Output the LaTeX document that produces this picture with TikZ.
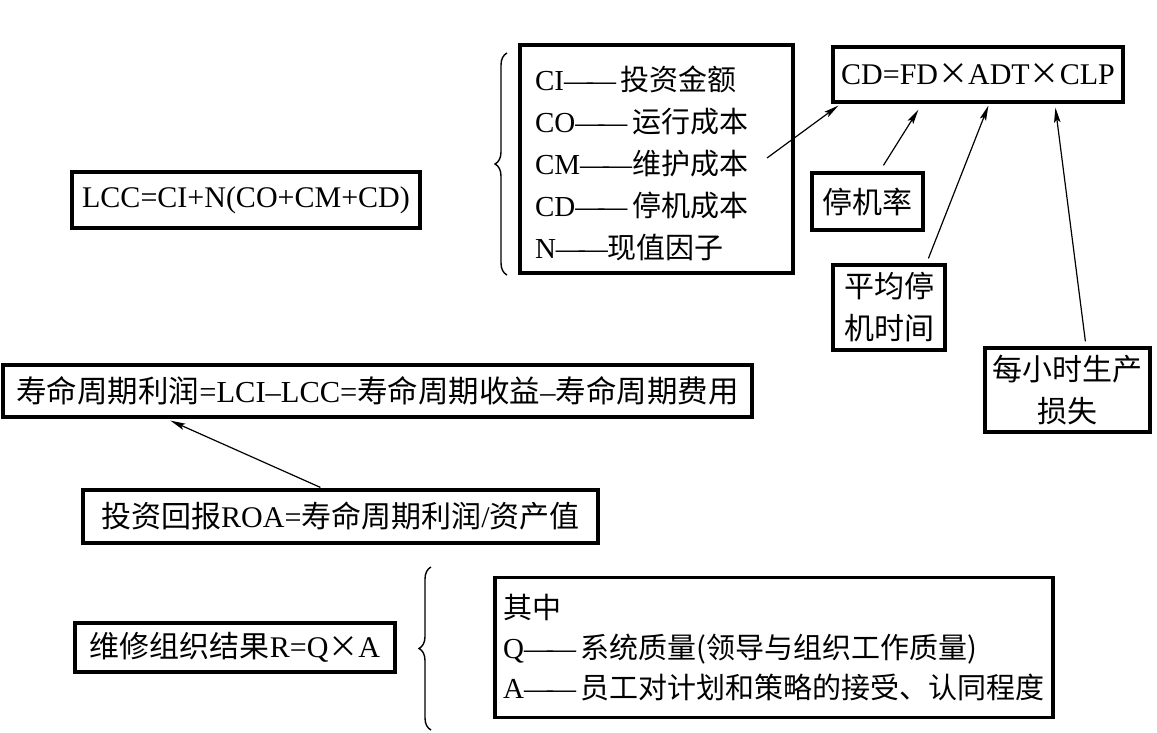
\documentclass[tikz,border=0pt]{standalone}
\usepackage{fontspec}
\setmainfont{Liberation Serif}
\newfontfamily\cjk{Noto Sans CJK SC}
\usetikzlibrary{arrows.meta,decorations.pathreplacing,calc}
\newcommand{\cx}{{\cjk ×}}
\newcommand{\ldash}{—\kern-6pt—}
\begin{document}
\begin{tikzpicture}[x=1pt,y=-1pt,
  box/.style={draw,line width=3.2pt,inner sep=0pt,align=center,
    font=\fontsize{30}{42}\selectfont},
  conn/.style={line width=1.2pt,-{Stealth[length=15pt,width=6.5pt,inset=3pt]}},
  bracel/.style={line width=1.4pt,decorate,decoration={brace,amplitude=12pt}}]
\useasboundingbox (0,0) rectangle (1157,732);
% boxes
\node[box,minimum width=348pt,minimum height=56pt] (lcc) at (246,200)
  {LCC=CI+N(CO+CM+CD)};
\node[box,minimum width=273pt,minimum height=228pt,align=left,
  font=\fontsize{29}{42}\selectfont] (list) at (656.5,159)
  {\makebox[243pt][l]{\rule{0pt}{34pt}CI\ldash\,{\cjk 投资金额}}\\
   CO\ldash\,{\cjk 运行成本}\\
   CM\ldash{\cjk 维护成本}\\
   CD\ldash\,{\cjk 停机成本}\\
   N\ldash{\cjk 现值因子}};
\node[box,minimum width=290pt,minimum height=55pt] (cd) at (978,74.5)
  {CD=FD\cx ADT\cx CLP};
\node[box,minimum width=111pt,minimum height=57pt] (fd) at (867.5,201.5)
  {\cjk 停机率};
\node[box,minimum width=112pt,minimum height=85pt] (adt) at (889,307.5)
  {\cjk 平均停\\\cjk 机时间};
\node[box,minimum width=165pt,minimum height=84pt] (clp) at (1067.5,390)
  {\cjk 每小时生产\\\cjk 损失};
\node[box,minimum width=749pt,minimum height=52pt,font=\fontsize{30.5}{40}\selectfont] (profit) at (377.5,391)
  {{\cjk 寿命周期利润}=LCI–LCC={\cjk 寿命周期收益}–{\cjk 寿命周期费用}};
\node[box,minimum width=515pt,minimum height=53pt] (roa) at (340.5,516.5)
  {{\cjk 投资回报}ROA={\cjk 寿命周期利润}/{\cjk 资产值}};
\node[box,minimum width=320pt,minimum height=49pt] (r) at (235,647.5)
  {{\cjk 维修组织结果}R=Q\cx A};
\node[box,minimum width=558pt,minimum height=140pt,align=left,
  font=\fontsize{29}{40}\selectfont] (qa) at (774,647.5)
  {\makebox[540pt][l]{\cjk 其中}\\
   Q\ldash\,{\cjk 系统质量(领导与组织工作质量)}\\
   A\ldash\,{\cjk 员工对计划和策略的接受、认同程度}};
% braces
\coordinate (b1s) at (507,275);
\coordinate (b1e) at (507,53);
\draw[bracel] (b1s) -- (b1e);
\coordinate (b2s) at (431,730);
\coordinate (b2e) at (431,567);
\draw[bracel] (b2s) -- (b2e);
% connectors
\coordinate (cmend) at (767,158);
\draw[conn] (cmend) -- ($(cd.south west)+(7,2)$);
\draw[conn] ($(fd.north west)+(73,-6)$) -- ($(cd.south west)+(87,6)$);
\draw[conn] ($(adt.north west)+(97,-5)$) -- ($(cd.south west)+(157,2)$);
\draw[conn] ($(clp.north west)+(102,-5)$) -- ($(cd.south west)+(224,4)$);
\draw[conn] ($(roa.north west)+(239,-1)$) -- ($(profit.south west)+(169,2)$);
\end{tikzpicture}
\end{document}
